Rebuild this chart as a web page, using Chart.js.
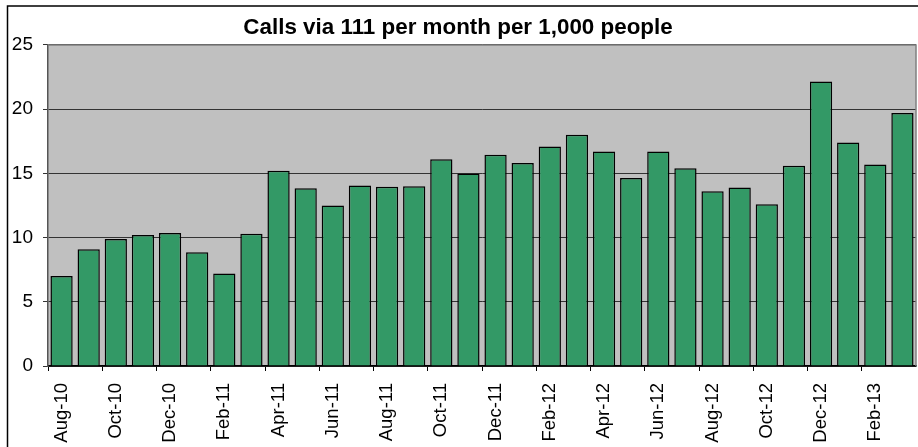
<!DOCTYPE html>
<html lang="en">

<head>
    <meta charset="UTF-8">
    <script src="https://cdn.jsdelivr.net/npm/chart.js"></script>
    <title>Calls via 111</title>
    <style>
        html, body { margin: 0; padding: 0; background: #fff; }
        #wrap { width: 918px; height: 447px; position: relative; }
    </style>
</head>

<body>
    <div id="wrap"><canvas id="calls"></canvas></div>
</body>

<script>
    const months = ['Aug-10', 'Sep-10', 'Oct-10', 'Nov-10', 'Dec-10', 'Jan-11', 'Feb-11', 'Mar-11',
        'Apr-11', 'May-11', 'Jun-11', 'Jul-11', 'Aug-11', 'Sep-11', 'Oct-11', 'Nov-11',
        'Dec-11', 'Jan-12', 'Feb-12', 'Mar-12', 'Apr-12', 'May-12', 'Jun-12', 'Jul-12',
        'Aug-12', 'Sep-12', 'Oct-12', 'Nov-12', 'Dec-12', 'Jan-13', 'Feb-13', 'Mar-13'];
    const calls = [7.0, 9.1, 9.9, 10.2, 10.35, 8.85, 7.2, 10.3,
        15.2, 13.85, 12.5, 14.05, 13.95, 14.0, 16.1, 15.0,
        16.45, 15.8, 17.1, 18.0, 16.7, 14.65, 16.7, 15.4,
        13.6, 13.9, 12.6, 15.6, 22.15, 17.4, 15.7, 19.7];
    const yTicks = [0, 5, 10, 15, 20, 25];

    // grey plot area + outer frame (left/top edges only visible)
    const frame = {
        id: 'frame',
        beforeDraw(chart) {
            const c = chart.ctx, a = chart.chartArea;
            c.save();
            c.fillStyle = '#c0c0c0';
            c.fillRect(a.left, a.top, a.right - a.left, a.bottom - a.top);
            c.strokeStyle = '#000';
            c.lineWidth = 1.5;
            c.beginPath();
            c.moveTo(7.5, 447);
            c.lineTo(7.5, 6);
            c.lineTo(918, 6);
            c.stroke();
            c.restore();
        },
        afterDatasetsDraw(chart) {
            const c = chart.ctx, a = chart.chartArea;
            c.save();
            c.strokeStyle = '#808080';
            c.lineWidth = 1.5;
            c.beginPath();
            c.moveTo(a.left, a.top);
            c.lineTo(a.right, a.top);
            c.lineTo(a.right, a.bottom);
            c.stroke();
            c.restore();
        }
    };

    new Chart(document.getElementById('calls'), {
        type: 'bar',
        data: {
            labels: months,
            datasets: [{
                data: calls,
                backgroundColor: '#339966',
                borderColor: '#000',
                borderWidth: 1.5,
                categoryPercentage: 1,
                barPercentage: 0.82
            }]
        },
        options: {
            responsive: true,
            maintainAspectRatio: false,
            animation: false,
            layout: { padding: { top: 6, left: 0, right: 2, bottom: 0 } },
            plugins: {
                legend: { display: false },
                tooltip: { enabled: false },
                title: {
                    display: true,
                    text: 'Calls via 111 per month per 1,000 people',
                    color: '#000',
                    font: { family: 'Liberation Sans, Arial', size: 22.4, weight: 'bold', lineHeight: 1.2 },
                    padding: { top: 8, bottom: 4.1 }
                }
            },
            scales: {
                x: {
                    offset: true,
                    afterFit: (s) => { s.height = 81; s.paddingLeft = 0; s.paddingRight = 0; },
                    grid: {
                        offset: true,
                        drawOnChartArea: false,
                        tickLength: 5,
                        lineWidth: 1,
                        color: (ctx) => ctx.index % 2 === 0 ? '#000' : 'rgba(0,0,0,0)'
                    },
                    border: { color: '#000', width: 1.5 },
                    ticks: {
                        autoSkip: false,
                        minRotation: 90,
                        maxRotation: 90,
                        padding: 12,
                        color: '#000',
                        font: { family: 'Liberation Sans, Arial', size: 18.5 },
                        callback: (v, i) => i % 2 === 0 ? months[i] : ''
                    }
                },
                y: {
                    min: 0,
                    max: 25,
                    afterFit: (s) => { s.width = 48; },
                    afterBuildTicks: (s) => { s.ticks = yTicks.map(v => ({ value: v })); },
                    grid: {
                        color: '#333',
                        lineWidth: 1,
                        tickLength: 5,
                        drawTicks: true
                    },
                    border: { color: '#555', width: 1.5 },
                    ticks: {
                        padding: 10,
                        color: '#000',
                        font: { family: 'Liberation Sans, Arial', size: 19 }
                    }
                }
            }
        },
        plugins: [frame]
    });
</script>

</html>
